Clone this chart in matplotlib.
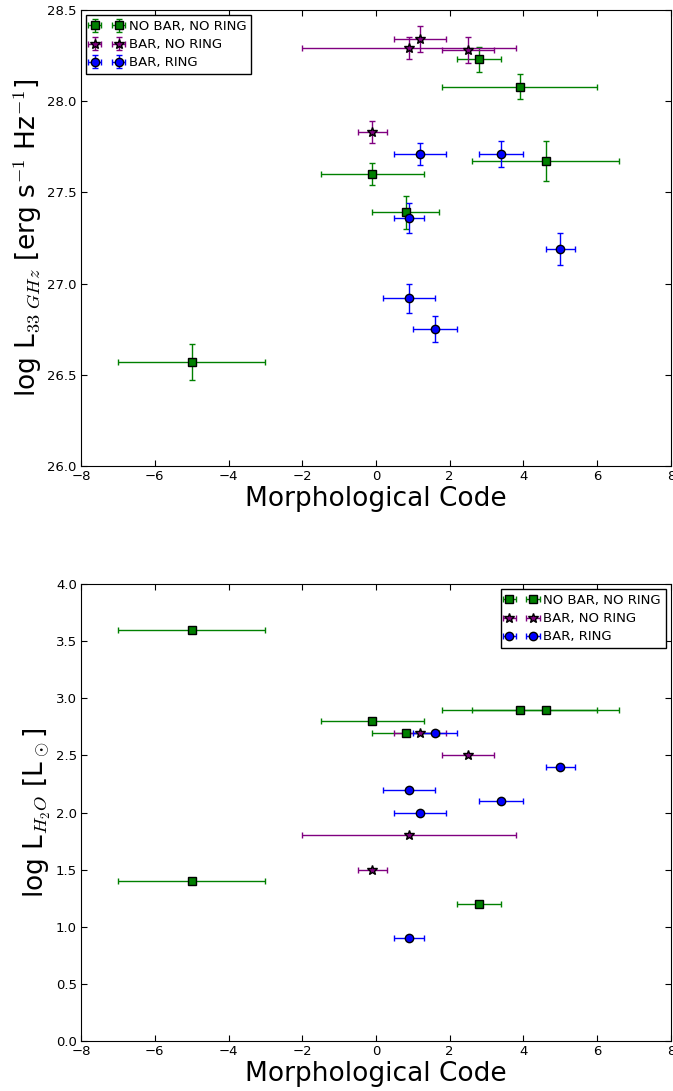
import numpy as np
import matplotlib
matplotlib.use('Agg')
import matplotlib.pyplot as plt

plt.rcParams['mathtext.fontset'] = 'cm'
plt.rcParams['xtick.direction'] = 'in'
plt.rcParams['ytick.direction'] = 'in'
plt.rcParams['xtick.top'] = True
plt.rcParams['ytick.right'] = True

# 33 GHz panel
morph_nbnr_33 = [-5.0, -0.1, 0.8, 2.8, 3.9, 4.6]
morph_nbnr_33_err = [2.0, 1.4, 0.9, 0.6, 2.1, 2.0]
lum33_nbnr = [26.57, 27.60, 27.39, 28.23, 28.08, 27.67]
lum33_nbnr_err = [0.10, 0.06, 0.09, 0.07, 0.07, 0.11]

morph_bnr_33 = [1.2, 0.9, 2.5, -0.1]
morph_bnr_33_err = [0.7, 2.9, 0.7, 0.4]
lum33_bnr = [28.34, 28.29, 28.28, 27.83]
lum33_bnr_err = [0.07, 0.06, 0.07, 0.06]

morph_br = [1.2, 3.4, 0.9, 5.0, 0.9, 1.6]
morph_br_err = [0.7, 0.6, 0.4, 0.4, 0.7, 0.6]
lum33_br = [27.71, 27.71, 27.36, 27.19, 26.92, 26.75]
lum33_br_err = [0.06, 0.07, 0.08, 0.09, 0.08, 0.07]

# H2O panel
morph_nbnr_h2o = [-5.0, -5.0, -0.1, 0.8, 2.8, 3.9, 4.6]
morph_nbnr_h2o_err = [2.0, 2.0, 1.4, 0.9, 0.6, 2.1, 2.0]
lh2o_nbnr = [3.6, 1.4, 2.8, 2.7, 1.2, 2.9, 2.9]

morph_bnr_h2o = [1.2, 2.5, 0.9, -0.1]
morph_bnr_h2o_err = [0.7, 0.7, 2.9, 0.4]
lh2o_bnr = [2.7, 2.5, 1.8, 1.5]

lh2o_br = [2.0, 2.1, 0.9, 2.4, 2.2, 2.7]

labels = ['NO BAR, NO RING', 'BAR, NO RING', 'BAR, RING']


def style_axes(ax, ylabel, ylim, yticks):
    ax.set_xlim(-8, 8)
    ax.set_ylim(*ylim)
    ax.set_xticks(np.arange(-8, 9, 2))
    ax.set_yticks(yticks)
    ax.set_yticklabels(['%.1f' % t for t in yticks])
    ax.tick_params(labelsize=9.5, length=4, width=0.8, pad=3)
    ax.set_xlabel('Morphological Code', fontsize=19, labelpad=2)
    ax.set_ylabel(ylabel, fontsize=19, labelpad=2)
    return ax


def add_legend(ax, loc):
    ax.legend(loc=loc, numpoints=2, fontsize=9.5, fancybox=False,
              edgecolor='k', framealpha=1, borderaxespad=0.4, handlelength=2.4,
              handletextpad=0.5, borderpad=0.35, labelspacing=0.4)


fig = plt.figure(figsize=(6.73, 10.91), dpi=100)
ax1 = fig.add_axes([0.1204, 0.5729, 0.8766, 0.4179])
ax2 = fig.add_axes([0.1204, 0.0458, 0.8766, 0.4189])

eb = dict(linestyle='none', capsize=2.5, elinewidth=1.0, capthick=1.0,
          markeredgecolor='k', markeredgewidth=1.0)

ax1.errorbar(morph_nbnr_33, lum33_nbnr, xerr=morph_nbnr_33_err, yerr=lum33_nbnr_err,
             fmt='s', color='green', ms=6, label=labels[0], **eb)
ax1.errorbar(morph_bnr_33, lum33_bnr, xerr=morph_bnr_33_err, yerr=lum33_bnr_err,
             fmt='*', color='purple', ms=7, label=labels[1], **eb)
ax1.errorbar(morph_br, lum33_br, xerr=morph_br_err, yerr=lum33_br_err,
             fmt='o', color='blue', ms=6, label=labels[2], **eb)
style_axes(ax1, r'log L$_{33\ GHz}$ [erg s$^{-1}$ Hz$^{-1}$]', (26.0, 28.5),
           np.arange(26.0, 28.51, 0.5))
add_legend(ax1, 'upper left')

ax2.errorbar(morph_nbnr_h2o, lh2o_nbnr, xerr=morph_nbnr_h2o_err,
             fmt='s', color='green', ms=6, label=labels[0], **eb)
ax2.errorbar(morph_bnr_h2o, lh2o_bnr, xerr=morph_bnr_h2o_err,
             fmt='*', color='purple', ms=7, label=labels[1], **eb)
ax2.errorbar(morph_br, lh2o_br, xerr=morph_br_err,
             fmt='o', color='blue', ms=6, label=labels[2], **eb)
style_axes(ax2, r'log L$_{H_2O}$ [L$_\odot$]', (0.0, 4.0),
           np.arange(0.0, 4.01, 0.5))
add_legend(ax2, 'upper right')

fig.savefig('out.png', dpi=100)
